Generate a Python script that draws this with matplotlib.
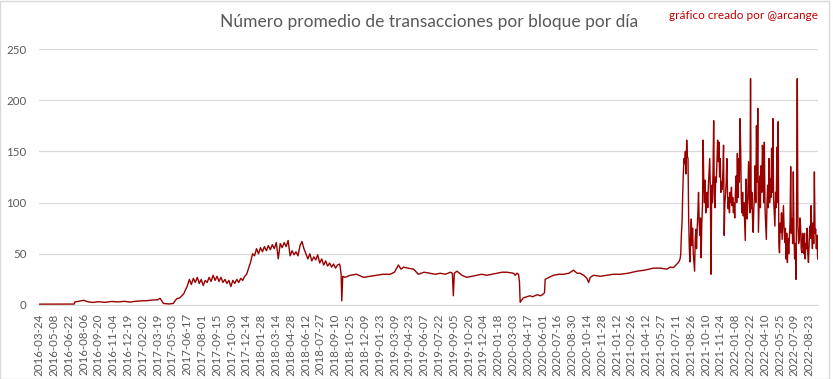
import numpy as np
import matplotlib.pyplot as plt
from matplotlib.patches import Rectangle

# --- data: average number of transactions per block
# day offsets are counted from 2016-03-24

# 2016-03-24 .. 2017-06 (irregular samples)
dias_a = [0, 40, 80, 107, 109, 120, 135, 150, 165, 180, 200, 220, 240, 260, 277,
          290, 310, 327, 345, 360, 368, 372, 378, 395, 408, 418, 428, 434, 440,
          444, 450]
prom_a = [0.8, 0.8, 0.9, 0.9, 3.0, 3.5, 4.6, 3.0, 2.5, 3.2, 2.6, 3.4, 3.0, 3.6,
          2.8, 3.5, 4.0, 4.2, 4.8, 5.0, 6.5, 4.5, 1.5, 1.0, 1.5, 6.0, 7.0, 9.0,
          11.0, 14.0, 18.0]

# 2017-06 .. 2018-09, one value every 6 days
inicio_b, paso_b = 457, 6
prom_b = [25, 20, 26, 22, 27, 21, 25, 19, 24, 22, 27, 23, 29, 24, 28, 23, 27, 22,
          25, 21, 24, 18, 24, 21, 25, 22, 26, 24, 28, 30, 36, 42, 50, 48, 55, 50,
          56, 52, 57, 53, 58, 54, 59, 55, 61, 45, 60, 56, 61, 57, 63, 48, 53, 49,
          52, 48, 58, 62, 55, 50, 45, 50, 43, 47, 44, 49, 41, 45, 39, 43, 38, 41,
          37, 40, 36, 39, 40]

# 2018-09 .. 2021-07 (irregular samples)
dias_c = [915, 918, 920, 923, 930, 945, 965, 986, 1005, 1026, 1045, 1067, 1080,
          1092, 1100, 1108, 1120, 1138, 1153, 1170, 1188, 1205, 1219, 1235, 1250,
          1256, 1259, 1262, 1270, 1285, 1300, 1315, 1330, 1345, 1361, 1376, 1391,
          1407, 1422, 1442, 1447, 1452, 1457, 1460, 1462, 1467, 1472, 1492, 1500,
          1513, 1525, 1533, 1536, 1538, 1550, 1563, 1580, 1594, 1610, 1624, 1635,
          1644, 1655, 1665, 1670, 1675, 1685, 1705, 1726, 1745, 1766, 1790, 1817,
          1840, 1867, 1888, 1908, 1918, 1928, 1938, 1944, 1948]
prom_c = [38, 30, 4, 28, 27, 29, 30, 27, 28, 29, 30, 30, 32, 39, 35, 37, 36, 35,
          30, 32, 31, 30, 31, 30, 32, 31, 9, 31, 33, 29, 27, 28, 29, 30, 29, 30,
          31, 32, 32, 31, 29, 31, 30, 22, 2.6, 5, 7, 9, 8, 10, 9, 11, 12, 25, 27,
          29, 30, 30, 31, 34, 31, 31, 29, 26, 22, 27, 29, 28, 29, 30, 30, 31, 33,
          34, 36, 36, 35, 37, 36.5, 40, 42, 45]

# 2021-07 .. 2022-09, one value every 2 days
inicio_d, paso_d = 1950, 2
prom_d = [50, 70, 81, 110, 130, 143, 138, 150, 128, 161, 145, 143, 84, 55, 42, 70,
          84, 58, 75, 50, 42, 33, 65, 74, 55, 75, 90, 110, 80, 68, 85, 46, 80, 97,
          161, 117, 100, 122, 90, 105, 110, 95, 117, 130, 143, 110, 30, 117, 100,
          130, 180, 104, 95, 125, 120, 140, 161, 140, 159, 125, 143, 110, 120, 113,
          130, 156, 68, 100, 107, 120, 143, 110, 94, 105, 90, 110, 100, 115, 97,
          105, 90, 100, 85, 110, 126, 100, 148, 105, 143, 120, 182, 153, 104, 90,
          110, 87, 100, 80, 63, 123, 95, 84, 110, 140, 104, 90, 221, 94, 110, 85,
          71, 95, 107, 136, 100, 175, 120, 192, 71, 100, 126, 95, 136, 110, 156,
          146, 100, 159, 94, 80, 64, 100, 117, 95, 143, 100, 123, 105, 153, 110,
          182, 104, 90, 77, 110, 95, 154, 100, 179, 60, 51, 80, 71, 90, 64, 80, 97,
          75, 61, 75, 45, 70, 41.5, 65, 50, 64, 80, 135, 70, 84, 60, 130, 70, 45,
          60, 25, 104, 221, 77, 60, 64, 85, 77, 55, 51, 70, 64, 50, 70, 45, 60, 55,
          75, 50, 41.5, 60, 77, 65, 97, 70, 55, 80, 60, 130, 70, 74, 55, 68, 45]

etiquetas = [
    '2016-03-24', '2016-05-08', '2016-06-22', '2016-08-06', '2016-09-20', '2016-11-04',
    '2016-12-19', '2017-02-02', '2017-03-19', '2017-05-03', '2017-06-17', '2017-08-01',
    '2017-09-15', '2017-10-30', '2017-12-14', '2018-01-28', '2018-03-14', '2018-04-28',
    '2018-06-12', '2018-07-27', '2018-09-10', '2018-10-25', '2018-12-09', '2019-01-23',
    '2019-03-09', '2019-04-23', '2019-06-07', '2019-07-22', '2019-09-05', '2019-10-20',
    '2019-12-04', '2020-01-18', '2020-03-03', '2020-04-17', '2020-06-01', '2020-07-16',
    '2020-08-30', '2020-10-14', '2020-11-28', '2021-01-12', '2021-02-26', '2021-04-12',
    '2021-05-27', '2021-07-11', '2021-08-26', '2021-10-10', '2021-11-24', '2022-01-08',
    '2022-02-22', '2022-04-10', '2022-05-25', '2022-07-09', '2022-08-23',
]
paso_etiquetas = 45

dias_b = inicio_b + paso_b * np.arange(len(prom_b))
dias_d = inicio_d + paso_d * np.arange(len(prom_d))
x = np.concatenate([dias_a, dias_b, dias_c, dias_d])
y = np.concatenate([prom_a, prom_b, prom_c, prom_d])

gris = '#595959'
plt.rcParams['font.family'] = ['Lato', 'DejaVu Sans']

fig = plt.figure(figsize=(8.33, 3.79), dpi=100)
ax = fig.add_axes([0.0468, 0.1953, 0.9352, 0.6754])

ax.plot(x, y, color='#990000', lw=1.0)

ax.set_xlim(0, 2367)
ax.set_ylim(0, 250)
ax.set_yticks(range(0, 251, 50))
ax.set_xticks(np.arange(len(etiquetas)) * paso_etiquetas)
ax.set_xticklabels(etiquetas, rotation=90)
ax.grid(axis='y', color='#D9D9D9', lw=0.9)
ax.set_axisbelow(True)
for s in ['top', 'right', 'left']:
    ax.spines[s].set_visible(False)
ax.spines['bottom'].set_color('#D9D9D9')
ax.tick_params(axis='both', length=0, colors=gris, labelsize=8.3)
ax.tick_params(axis='y', pad=9)
ax.tick_params(axis='x', pad=6)

fig.text(0.5146, 0.942, 'Número promedio de transacciones por bloque por día',
         ha='center', va='center', fontsize=12.5, color=gris)
fig.text(0.893, 0.9586, 'gráfico creado por @arcange',
         ha='center', va='center', fontsize=8.5, color='#C00000')

# chart border
fig.patches.append(Rectangle((0.0006, 0.0013), 0.995, 0.997, transform=fig.transFigure,
                             fill=False, ec='#D9D9D9', lw=1.0))

fig.savefig('out.png', dpi=100)
